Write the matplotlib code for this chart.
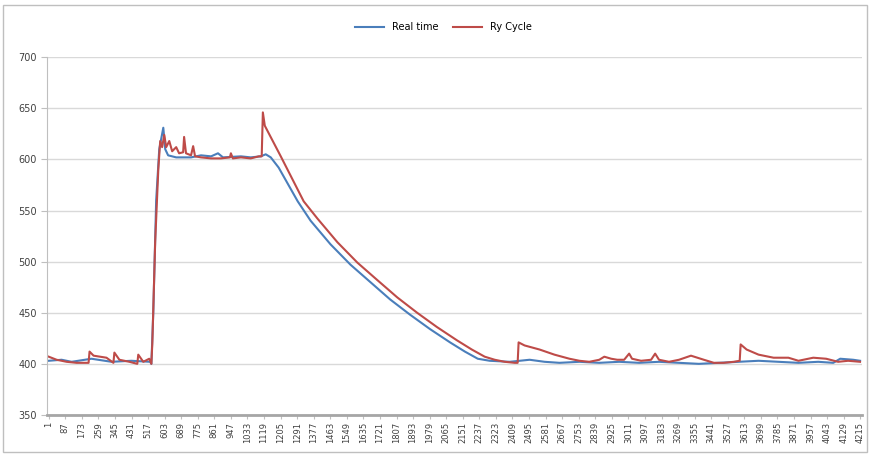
import numpy as np
import matplotlib.pyplot as plt
from matplotlib.patches import Rectangle

# sample index -> temperature
real_idx = [1, 68, 120, 223, 327, 430, 528, 534, 544, 559, 575, 596, 606, 621, 663,
            740, 792, 844, 880, 906, 999, 1050, 1102, 1128, 1154, 1195, 1231, 1294,
            1361, 1464, 1568, 1671, 1774, 1878, 1981, 2085, 2162, 2229, 2291, 2395,
            2498, 2576, 2653, 2757, 2860, 2963, 3067, 3170, 3274, 3377, 3480, 3584,
            3687, 3790, 3894, 3997, 4075, 4111, 4178, 4214]
real_val = [403, 404, 402, 405, 402, 403, 402, 400, 450, 560, 610, 631, 610, 604, 602,
            602, 604, 603, 606, 602, 603, 602, 603, 605, 602, 592, 580, 559,
            540, 517, 497, 480, 463, 448, 434, 421, 412, 405, 403, 402,
            404, 402, 401, 402, 401, 402, 401, 402, 401, 400, 401, 402,
            403, 402, 401, 402, 401, 405, 404, 403]

cyc_idx = [1, 42, 94, 146, 208, 213, 234, 301, 337, 342, 368, 420, 461, 466, 492,
           523, 534, 539, 554, 570, 580, 590, 601, 611, 627, 642, 663, 678, 699,
           704, 714, 740, 751, 761, 792, 844, 895, 942, 947, 957, 999, 1050, 1092,
           1107, 1113, 1123, 1206, 1325, 1397, 1500, 1604, 1707, 1811, 1914, 2017,
           2121, 2198, 2265, 2317, 2369, 2421, 2436, 2441, 2472, 2550, 2627, 2705,
           2757, 2808, 2860, 2886, 2922, 2953, 2989, 3015, 3030, 3077, 3129, 3150,
           3170, 3222, 3274, 3336, 3403, 3455, 3506, 3558, 3589, 3594, 3625, 3687,
           3765, 3842, 3894, 3971, 4038, 4100, 4152, 4214]
cyc_val = [407, 404, 402, 401, 401, 412, 408, 406, 401, 411, 404, 402, 400, 409, 402,
           405, 400, 420, 520, 590, 618, 612, 624, 612, 618, 608, 612, 606, 607,
           622, 606, 604, 613, 603, 602, 601, 601, 602, 606, 601, 602, 601, 603,
           603, 646, 633, 603, 559, 542, 519, 499, 482, 465, 450, 436,
           423, 414, 407, 404, 402, 401, 401, 421, 418, 414, 409, 405,
           403, 402, 404, 407, 405, 404, 404, 410, 405, 403, 404, 410,
           404, 402, 404, 408, 404, 401, 401, 402, 403, 419, 414, 409,
           406, 406, 403, 406, 405, 402, 403, 402]

tick_pos = list(range(1, 4216, 86))
tick_lbl = [str(t) for t in tick_pos]

fig = plt.figure(figsize=(8.7, 4.54), dpi=100)
ax = fig.add_axes([0.054, 0.086, 0.937, 0.788])

ax.plot(real_idx, real_val, color="#4a7ebb", lw=1.5, label="Real time")
ax.plot(cyc_idx, cyc_val, color="#be4b48", lw=1.5, label="Ry Cycle")

ax.set_ylim(350, 700)
ax.set_yticks(range(350, 701, 50))
ax.set_xlim(-8, 4225)
ax.set_xticks(tick_pos)
ax.set_xticklabels(tick_lbl, rotation=90, fontsize=6, color="#404040")
ax.tick_params(axis="y", labelsize=7, colors="#404040", length=4, color="#bfbfbf")
ax.tick_params(axis="x", length=3, color="#bfbfbf", pad=2)
ax.grid(axis="y", color="#d9d9d9", lw=1)
ax.set_axisbelow(True)
for s in ["top", "right"]:
    ax.spines[s].set_visible(False)
ax.spines["left"].set_color("#bfbfbf")
ax.spines["bottom"].set_color("#a6a6a6")
ax.spines["bottom"].set_linewidth(2)

fig.legend(loc="center", bbox_to_anchor=(0.51, 0.94), ncol=2, frameon=False,
           fontsize=7, handlelength=3, columnspacing=1.5)

fig.patches.append(Rectangle((0.004, 0.005), 0.993, 0.985, transform=fig.transFigure,
                             fill=False, edgecolor="#bfbfbf", lw=1))

fig.savefig("out.png", dpi=100)
